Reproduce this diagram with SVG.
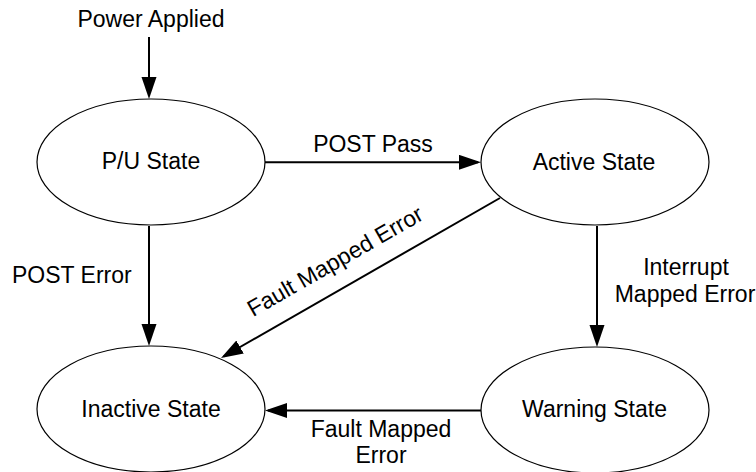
<svg xmlns="http://www.w3.org/2000/svg" width="756" height="472" viewBox="0 0 756 472">
  <style>
    .state { fill: #ffffff; stroke: #000000; stroke-width: 1.2; }
    .edge { fill: none; stroke: #000000; stroke-width: 2; marker-end: url(#head); }
    text { font-family: "Liberation Sans", Arial, sans-serif; font-size: 23px; fill: #000000; }
    .c { text-anchor: middle; }
  </style>
  <defs>
    <marker id="head" markerUnits="userSpaceOnUse" markerWidth="24" markerHeight="16" refX="19" refY="7.5" orient="auto">
      <path d="M0,0 L22,7.5 L0,15 Z" fill="#000000"/>
    </marker>
  </defs>

  <!-- transitions -->
  <g id="connectors">
    <line class="edge" x1="149" y1="37" x2="149" y2="96"/>
    <line class="edge" x1="265" y1="162.3" x2="478" y2="162.3"/>
    <line class="edge" x1="149" y1="226" x2="149" y2="343"/>
    <line class="edge" x1="500" y1="198" x2="223.6" y2="356.5"/>
    <line class="edge" x1="597" y1="226" x2="597" y2="344"/>
    <line class="edge" x1="481" y1="410.5" x2="268" y2="410.5"/>
  </g>

  <!-- transition labels -->
  <g id="labels">
    <text class="c" x="151" y="27">Power Applied</text>
    <text class="c" x="373" y="152">POST Pass</text>
    <text x="12" y="283">POST Error</text>
    <text class="c" transform="translate(339 268) rotate(-29.8)">Fault Mapped Error</text>
    <text class="c" x="686" y="275">Interrupt</text>
    <text class="c" x="685" y="302">Mapped Error</text>
    <text class="c" x="381" y="437">Fault Mapped</text>
    <text class="c" x="381" y="463">Error</text>
  </g>

  <g id="pu-state">
    <ellipse class="state" cx="151" cy="162" rx="114" ry="63"/>
    <text class="c" x="151" y="169">P/U State</text>
  </g>
  <g id="active-state">
    <ellipse class="state" cx="595" cy="162" rx="114" ry="63"/>
    <text class="c" x="594" y="170">Active State</text>
  </g>
  <g id="inactive-state">
    <ellipse class="state" cx="151" cy="409" rx="114" ry="63"/>
    <text class="c" x="151" y="417">Inactive State</text>
  </g>
  <g id="warning-state">
    <ellipse class="state" cx="595" cy="410" rx="114" ry="63"/>
    <text class="c" x="594.5" y="417">Warning State</text>
  </g>
</svg>
